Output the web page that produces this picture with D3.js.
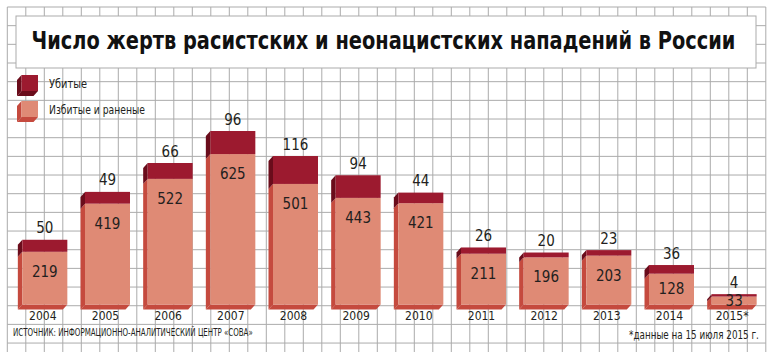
<!DOCTYPE html>
<html><head><meta charset="utf-8">
<script src="https://cdn.jsdelivr.net/npm/d3@7"></script>
<style>
html,body{margin:0;padding:0;background:#fff;}
svg{display:block;}
text{font-family:'Liberation Sans Narrow','DejaVu Sans Condensed','Arial Narrow',sans-serif;font-stretch:condensed;}
</style></head>
<body>
<script>
const years = ["2004","2005","2006","2007","2008","2009","2010","2011","2012","2013","2014","2015*"];
const killed = [50,49,66,96,116,94,44,26,20,23,36,4];
const injured = [219,419,522,625,501,443,421,211,196,203,128,33];
const legendLabels = ["Убитые","Избитые и раненые"];
const titleText = "Число жертв расистских и неонацистских нападений в России";
const sourceText = "ИСТОЧНИК: ИНФОРМАЦИОННО-АНАЛИТИЧЕСКИЙ ЦЕНТР «СОВА»";
const noteText = "*данные на 15 июля 2015 г.";

const W = 772, H = 352;
const C = {
  grid:"#ababab",
  injFront:"#df8a75", injSide:"#c54a3e",
  kilFront:"#9c1a2f", kilSide:"#6a0c1b",
  text:"#231f20"
};
const DX = -4.5, DY = 5;

const svg = d3.select("body").append("svg").attr("width",W).attr("height",H);

// text squeezed horizontally to a given width via transform
function fitText(parent, str, x0, yb, width, size, weight, fill){
  const t = parent.append("text").attr("font-size",size).attr("fill",fill)
    .attr("font-weight",weight||"normal").text(str);
  const len = t.node().getComputedTextLength();
  const sx = Math.min(1.3, width/len);
  t.attr("transform",`translate(${x0},${yb}) scale(${sx},1)`);
  return t;
}

// background grid
const g0 = svg.append("g");
const gx0 = 7.3, gxs = 18.5, gy0 = 7, gys = 18.67;
for(let k=0;k<=41;k++){
  const xx = gx0 + k*gxs;
  g0.append("line").attr("x1",xx).attr("x2",xx).attr("y1",gy0).attr("y2",H)
    .attr("stroke",C.grid).attr("stroke-width",1);
}
for(let k=0;k<=18;k++){
  const yy = gy0 + k*gys;
  g0.append("line").attr("x1",gx0).attr("x2",gx0+41*gxs).attr("y1",yy).attr("y2",yy)
    .attr("stroke",C.grid).attr("stroke-width",1);
}

// title box
svg.append("rect").attr("x",16).attr("y",16).attr("width",740).attr("height",52)
  .attr("fill","#fff").attr("stroke",C.grid).attr("stroke-width",1);
fitText(svg, titleText, 31.5, 48.5, 704, 24, "bold", "#111");

// scales
const x = d3.scaleBand().domain(years).range([13.5,765.5]).paddingInner(0.282).paddingOuter(0.141);
const y = d3.scaleLinear().domain([0,721]).range([304.5,131]);

function box(g, x0, x1, yTop, yBot, front, side, bottom){
  g.append("path").attr("d",`M${x0},${yTop}L${x0+DX},${yTop+DY}L${x0+DX},${yBot+DY}L${x0},${yBot}Z`).attr("fill",side);
  if(bottom){
    g.append("path").attr("d",`M${x0},${yBot}L${x1},${yBot}L${x1+DX},${yBot+DY}L${x0+DX},${yBot+DY}Z`).attr("fill",bottom);
  }
  g.append("rect").attr("x",x0).attr("y",yTop).attr("width",x1-x0).attr("height",Math.max(0,yBot-yTop)).attr("fill",front);
}

// legend
const lg = svg.append("g");
const legendWidths = [38, 96];
[[C.kilFront,C.kilSide],[C.injFront,C.injSide]].forEach((c,i)=>{
  const ly = 75 + i*26;
  box(lg, 21.5, 38, ly, ly+16, c[0], c[1], c[1]);
  fitText(lg, legendLabels[i], 49, ly+12.5, legendWidths[i], 12, "normal", C.text);
});

// bars
const bg = svg.append("g");
years.forEach((yr,i)=>{
  const x0 = x(yr), x1 = x0 + x.bandwidth();
  const yInj = y(injured[i]);
  const yTot = Math.min(y(injured[i]+killed[i]), yInj-2.4);
  box(bg, x0, x1, yInj, y(0), C.injFront, C.injSide, C.injSide);
  box(bg, x0, x1, yTot, yInj, C.kilFront, C.kilSide, null);
  const cx = x0 + x.bandwidth()/2;
  const h = y(0)-yInj;
  const off = Math.min(20, h/2);
  bg.append("text").attr("x",cx).attr("y",yInj+off+5).attr("text-anchor","middle")
    .attr("font-size",15).attr("fill",C.text).text(injured[i]);
  bg.append("text").attr("x",cx).attr("y",yTot-6.5).attr("text-anchor","middle")
    .attr("font-size",15).attr("fill",C.text).text(killed[i]);
  bg.append("text").attr("x",cx-2).attr("y",319.5).attr("text-anchor","middle")
    .attr("font-size",12).attr("fill",C.text).text(yr);
});

// footnotes
fitText(svg, sourceText, 13, 335.5, 240, 10.5, "normal", C.text);
fitText(svg, noteText, 629, 338.5, 130, 12.5, "normal", C.text);
</script>
</body></html>
